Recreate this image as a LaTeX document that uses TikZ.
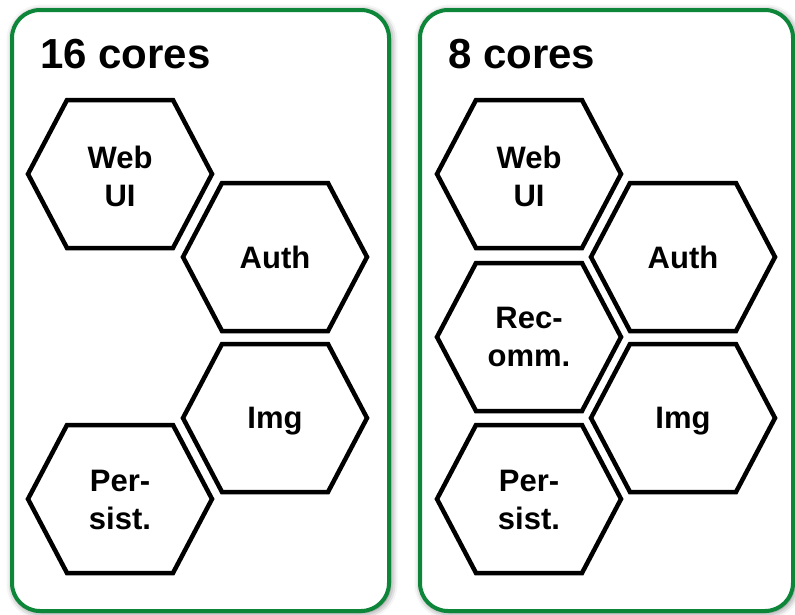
\documentclass[tikz,border=0pt]{standalone}
\usepackage{fontspec}
\setmainfont{Liberation Sans}
\usetikzlibrary{shadows.blur}
\definecolor{panelgreen}{RGB}{14,134,58}
\tikzset{
  panel/.style={draw=panelgreen, line width=4pt, rounded corners=28pt, fill=white,
    blur shadow={shadow xshift=1.5pt, shadow yshift=-1.5pt, shadow blur radius=7pt, shadow opacity=60}},
  hexlabel/.style={align=center, inner sep=0pt, font=\fontsize{31}{38}\selectfont\bfseries},
  hexline/.style={draw=black, line width=4.5pt, line join=miter},
  titlelabel/.style={anchor=base west, inner sep=0pt, font=\fontsize{42}{50}\selectfont\bfseries}
}
\newcommand\hexaround[2]{\draw[hexline] (#1) ++(-92,0) -- ++(39,-74) -- ++(106,0) -- ++(39,74) -- ++(-39,74) -- ++(-106,0) -- cycle;}
\begin{document}
\begin{tikzpicture}[x=1pt,y=-1pt]
\useasboundingbox (0,0) rectangle (795,614);
% panels
\path[panel] (12,10) rectangle (389,611);
\path[panel] (420,10) rectangle (793,611);
\node[titlelabel] (t16) at (40,68) {16 cores};
\node[titlelabel] (t8) at (448,68) {8 cores};
% hexagon centres
\coordinate (clweb) at (120,174);
\coordinate (clauth) at (275,257);
\coordinate (climg) at (275,418);
\coordinate (clpers) at (120,499);
\coordinate (crweb) at (529,174);
\coordinate (crauth) at (683,257);
\coordinate (crrec) at (529,337);
\coordinate (crimg) at (683,418);
\coordinate (crpers) at (529,499);
% left panel
\node[hexlabel] (lweb) at ([yshift=-2pt]clweb) {Web\\UI};
\node[hexlabel] (lauth) at (clauth) {Auth};
\node[hexlabel] (limg) at ([yshift=-3pt]climg) {Img};
\node[hexlabel] (lpers) at ([yshift=-1pt]clpers) {Per-\\sist.};
% right panel
\node[hexlabel] (rweb) at ([yshift=-2pt]crweb) {Web\\UI};
\node[hexlabel] (rauth) at (crauth) {Auth};
\node[hexlabel] (rrec) at (crrec) {Rec-\\omm.};
\node[hexlabel] (rimg) at ([yshift=-3pt]crimg) {Img};
\node[hexlabel] (rpers) at ([yshift=-1pt]crpers) {Per-\\sist.};
\hexaround{clweb}{}\hexaround{clauth}{}\hexaround{climg}{}\hexaround{clpers}{}
\hexaround{crweb}{}\hexaround{crauth}{}\hexaround{crrec}{}\hexaround{crimg}{}\hexaround{crpers}{}
\end{tikzpicture}
\end{document}
